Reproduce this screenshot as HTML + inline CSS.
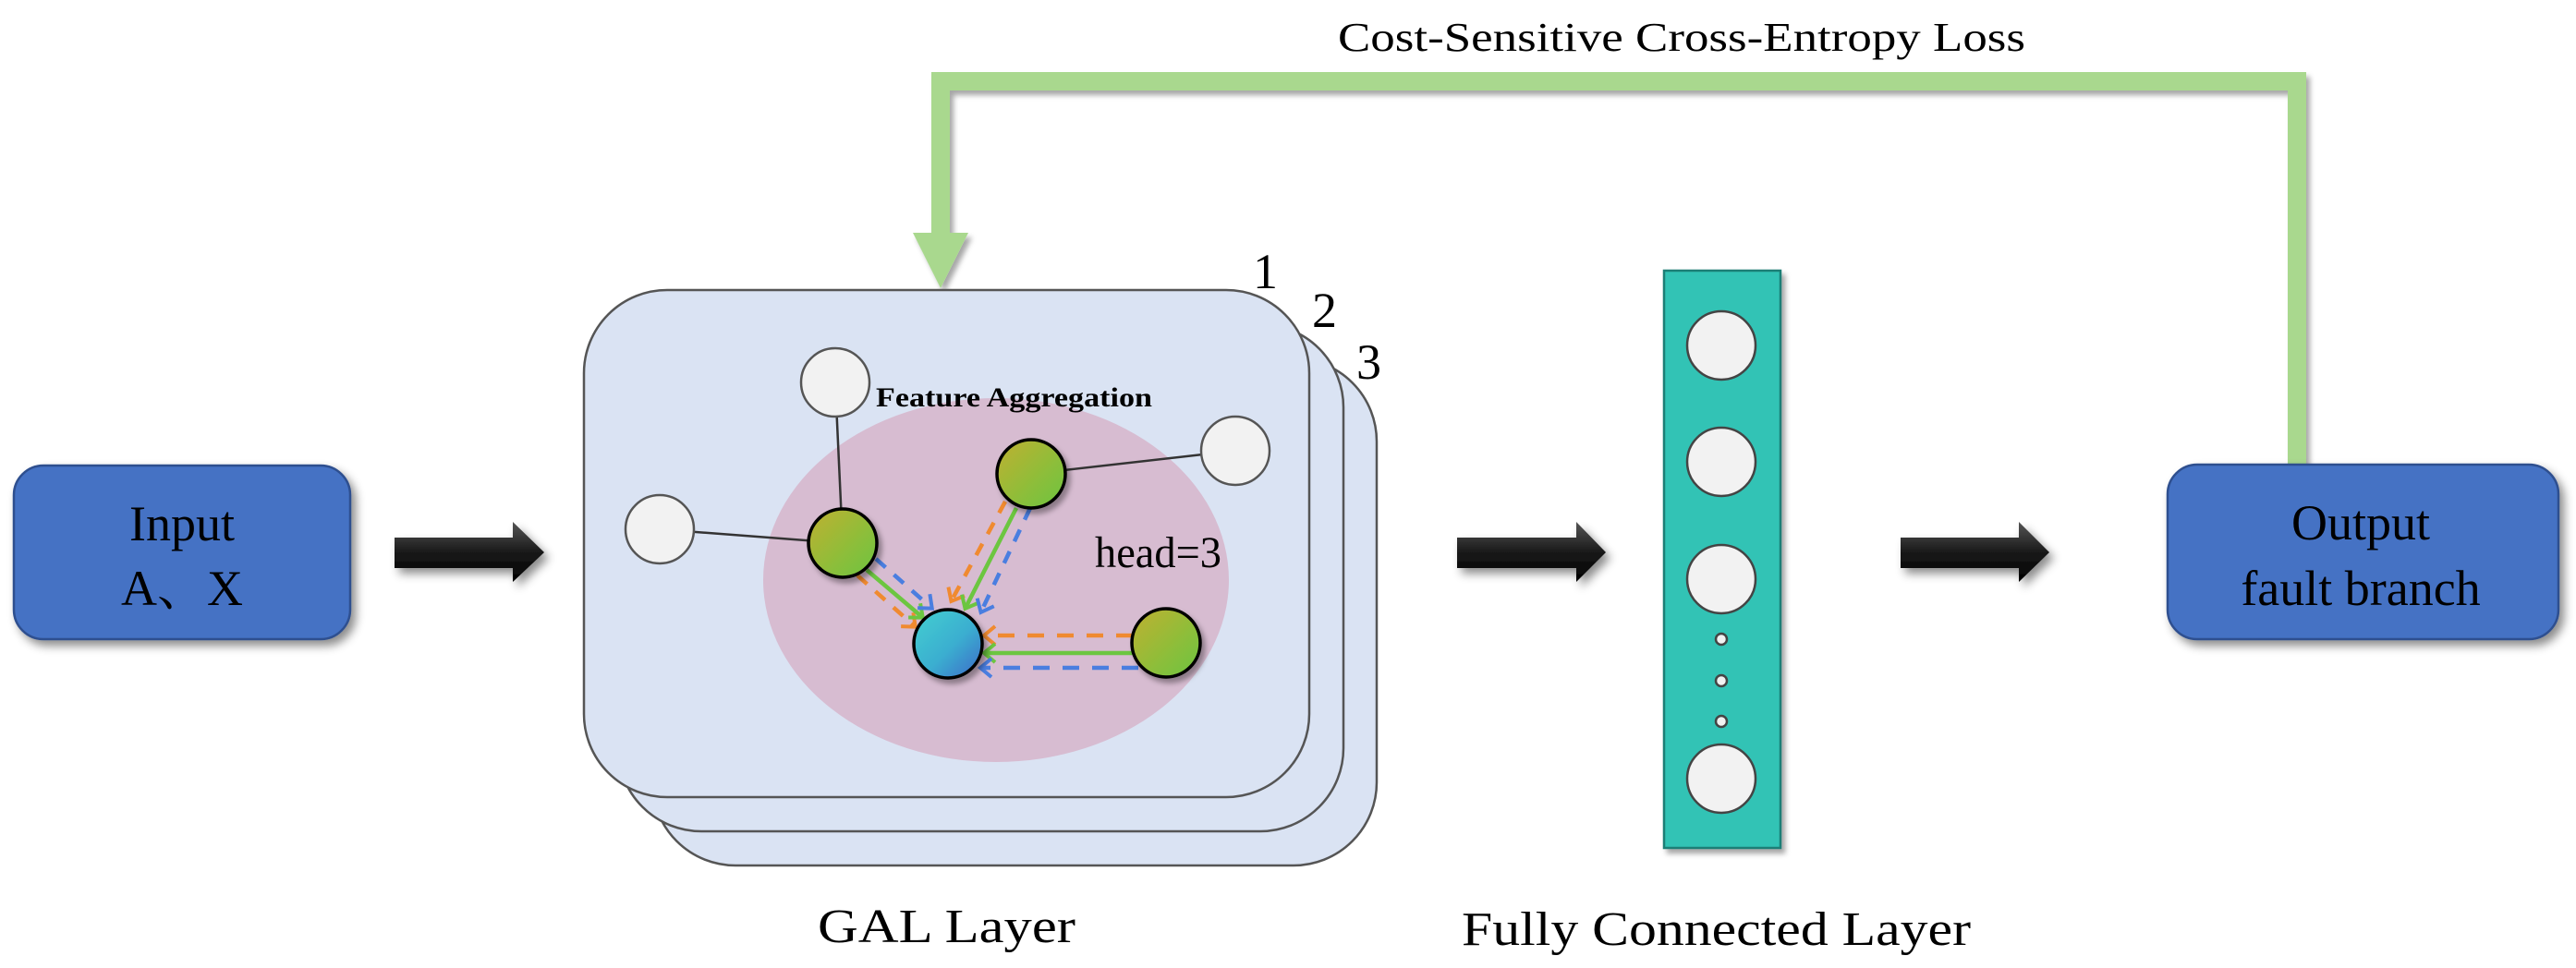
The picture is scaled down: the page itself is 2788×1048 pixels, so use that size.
<!DOCTYPE html>
<html><head><meta charset="utf-8"><style>
html,body{margin:0;padding:0;background:#fff;}
svg{display:block;}
text{font-family:"Liberation Serif","Noto Serif CJK SC",serif;fill:#000;}
</style></head><body>
<svg width="2788" height="1048" viewBox="0 0 2788 1048" xmlns="http://www.w3.org/2000/svg">
<defs>
  <filter id="sh" x="-20%" y="-20%" width="150%" height="150%">
    <feDropShadow dx="5" dy="6" stdDeviation="5" flood-color="#000" flood-opacity="0.45"/>
  </filter>
  <filter id="sh2" x="-20%" y="-20%" width="150%" height="150%">
    <feDropShadow dx="4" dy="5" stdDeviation="3" flood-color="#000" flood-opacity="0.35"/>
  </filter>
  <linearGradient id="ar" x1="0" y1="0" x2="0" y2="1">
    <stop offset="0" stop-color="#555"/><stop offset="0.5" stop-color="#1a1a1a"/><stop offset="1" stop-color="#000"/>
  </linearGradient>
  <linearGradient id="gn" x1="0" y1="0" x2="1" y2="1">
    <stop offset="0" stop-color="#c0b030"/><stop offset="0.6" stop-color="#8cbe3a"/><stop offset="1" stop-color="#6cc440"/>
  </linearGradient>
  <linearGradient id="bn" x1="0" y1="0" x2="1" y2="1">
    <stop offset="0" stop-color="#45d0d0"/><stop offset="0.55" stop-color="#3aaed0"/><stop offset="1" stop-color="#3d68c8"/>
  </linearGradient>
  <marker id="mo" viewBox="0 0 10 10" refX="9" refY="5" markerWidth="10" markerHeight="10" orient="auto" markerUnits="userSpaceOnUse" style="overflow:visible">
    <path d="M-2,-5 L10,5 L-2,15" fill="none" stroke="#f08a30" stroke-width="4"/>
  </marker>
  <marker id="mg" viewBox="0 0 10 10" refX="9" refY="5" markerWidth="10" markerHeight="10" orient="auto" markerUnits="userSpaceOnUse" style="overflow:visible">
    <path d="M-2,-5 L10,5 L-2,15" fill="none" stroke="#6cc640" stroke-width="4"/>
  </marker>
  <marker id="mb" viewBox="0 0 10 10" refX="9" refY="5" markerWidth="10" markerHeight="10" orient="auto" markerUnits="userSpaceOnUse" style="overflow:visible">
    <path d="M-2,-5 L10,5 L-2,15" fill="none" stroke="#4a7ee0" stroke-width="4"/>
  </marker>
</defs>

<text x="1448" y="55" font-size="44" textLength="744" lengthAdjust="spacingAndGlyphs">Cost-Sensitive Cross-Entropy Loss</text>

<g filter="url(#sh2)">
  <path d="M2486,503 L2486,88 L1018,88 L1018,254" fill="none" stroke="#a9d88e" stroke-width="20"/>
  <polygon points="988,252 1048,252 1018,312" fill="#a9d88e"/>
</g>

<rect x="15" y="504" width="364" height="188" rx="32" fill="#4472c4" stroke="#2f4f8f" stroke-width="2.5" filter="url(#sh)"/>
<text x="197" y="585" font-size="54" text-anchor="middle">Input</text>
<text x="197" y="655" font-size="54" text-anchor="middle">A、X</text>

<g filter="url(#sh)">
  <polygon points="427,582 555,582 555,565 589,598 555,630 555,615 427,615" fill="url(#ar)"/>
  <polygon points="1577,582 1706,582 1706,565 1738,598 1706,630 1706,615 1577,615" fill="url(#ar)"/>
  <polygon points="2057,582 2185,582 2185,565 2218,598 2185,630 2185,615 2057,615" fill="url(#ar)"/>
</g>

<rect x="706" y="388" width="784" height="549" rx="90" fill="#dae3f3" stroke="#555" stroke-width="2.5"/>
<rect x="669" y="351" width="785" height="549" rx="90" fill="#dae3f3" stroke="#555" stroke-width="2.5"/>
<rect x="632" y="314" width="785" height="549" rx="90" fill="#dae3f3" stroke="#555" stroke-width="2.5"/>
<text x="1356" y="312" font-size="54">1</text>
<text x="1420" y="354" font-size="54">2</text>
<text x="1468" y="410" font-size="54">3</text>

<ellipse cx="1078" cy="628" rx="252" ry="197" fill="#d7bcd1"/>
<text x="948" y="440" font-size="30" font-weight="bold" textLength="299" lengthAdjust="spacingAndGlyphs">Feature Aggregation</text>
<text x="1185" y="614" font-size="48" textLength="137" lengthAdjust="spacingAndGlyphs">head=3</text>

<g stroke="#333" stroke-width="2.5">
  <line x1="904" y1="414" x2="912" y2="588"/>
  <line x1="714" y1="573" x2="912" y2="588"/>
  <line x1="1337" y1="488" x2="1116" y2="513"/>
</g>

<g stroke-width="4.5" fill="none">
  <line x1="928" y1="623" x2="990" y2="678" stroke="#f08a30" stroke-dasharray="14,12" marker-end="url(#mo)"/>
  <line x1="938" y1="617" x2="998" y2="668" stroke="#6cc640" marker-end="url(#mg)"/>
  <line x1="948" y1="605" x2="1008" y2="658" stroke="#4a7ee0" stroke-dasharray="14,12" marker-end="url(#mb)"/>

  <line x1="1088" y1="543" x2="1030" y2="650" stroke="#f08a30" stroke-dasharray="14,12" marker-end="url(#mo)"/>
  <line x1="1100" y1="550" x2="1045" y2="658" stroke="#6cc640" marker-end="url(#mg)"/>
  <line x1="1115" y1="550" x2="1062" y2="662" stroke="#4a7ee0" stroke-dasharray="14,12" marker-end="url(#mb)"/>

  <line x1="1226" y1="688" x2="1066" y2="688" stroke="#f08a30" stroke-dasharray="18,14" marker-end="url(#mo)"/>
  <line x1="1226" y1="707" x2="1066" y2="707" stroke="#6cc640" marker-end="url(#mg)"/>
  <line x1="1232" y1="723" x2="1062" y2="723" stroke="#4a7ee0" stroke-dasharray="18,14" marker-end="url(#mb)"/>
</g>

<g stroke="#555" stroke-width="2.5" fill="#f2f2f2">
  <circle cx="904" cy="414" r="37"/>
  <circle cx="714" cy="573" r="37"/>
  <circle cx="1337" cy="488" r="37"/>
</g>
<g stroke="#000" stroke-width="3.5" filter="url(#sh2)">
  <circle cx="912" cy="588" r="37" fill="url(#gn)"/>
  <circle cx="1116" cy="513" r="37" fill="url(#gn)"/>
  <circle cx="1262" cy="696" r="37" fill="url(#gn)"/>
  <circle cx="1026" cy="697" r="37" fill="url(#bn)"/>
</g>

<text x="885" y="1020" font-size="52" textLength="279" lengthAdjust="spacingAndGlyphs">GAL Layer</text>

<rect x="1801" y="293" width="126" height="625" fill="#30c3b5" stroke="#1f7f76" stroke-width="2.5" filter="url(#sh2)"/>
<g fill="#f2f2f2" stroke="#444" stroke-width="2.5">
  <circle cx="1863" cy="374" r="37"/>
  <circle cx="1863" cy="500" r="37"/>
  <circle cx="1863" cy="627" r="37"/>
  <circle cx="1863" cy="843" r="37"/>
  <circle cx="1863" cy="692" r="6"/>
  <circle cx="1863" cy="737" r="6"/>
  <circle cx="1863" cy="781" r="6"/>
</g>
<text x="1582" y="1023" font-size="52" textLength="551" lengthAdjust="spacingAndGlyphs">Fully Connected Layer</text>

<rect x="2346" y="503" width="423" height="189" rx="32" fill="#4472c4" stroke="#2f4f8f" stroke-width="2.5" filter="url(#sh)"/>
<text x="2555" y="584" font-size="54" text-anchor="middle">Output</text>
<text x="2555" y="655" font-size="54" text-anchor="middle">fault branch</text>
</svg>
</body></html>
